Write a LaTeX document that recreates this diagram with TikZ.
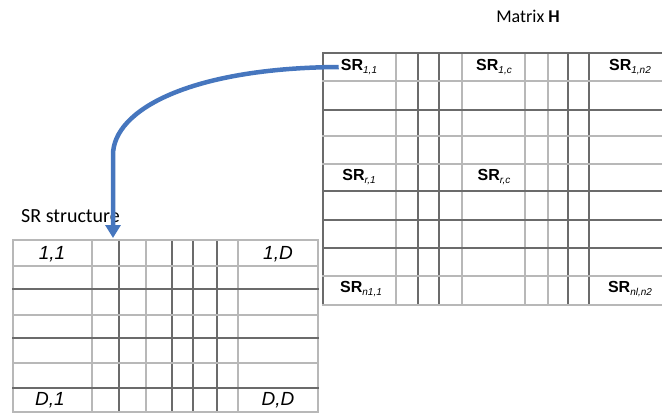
\documentclass[tikz,border=0pt]{standalone}
\usepackage{fontspec}
\setmainfont{Carlito}
\newfontfamily\arialfont{Liberation Sans}
\usetikzlibrary{arrows.meta}
\definecolor{arrowblue}{RGB}{70,118,190}
\newcommand{\srlab}[1]{{\bfseries SR}{\itshape\fontsize{10}{10}\selectfont\raisebox{-0.4ex}{#1}}}
\begin{document}
\begin{tikzpicture}[x=1pt, y=-1pt, line cap=rect,
	lightline/.style={draw=black!28, line width=1.2pt},
	darkline/.style={draw=black!58, line width=1.2pt},
	srtext/.style={font=\arialfont\fontsize{16}{16}\selectfont, inner sep=2pt},
	celltext/.style={font=\arialfont\itshape\fontsize{19}{19}\selectfont, inner sep=1pt},
	title/.style={font=\fontsize{18}{18}\selectfont, inner sep=0pt}]
	\useasboundingbox (0,0) rectangle (662,415);
	% matrix H
	\foreach \x/\s in {323/darkline, 396/lightline, 418/darkline, 439/darkline, 462/lightline, 525/lightline, 548/lightline, 568/darkline, 589/darkline}{
		\draw [\s] (\x,53)--(\x,305);
	}
	\foreach \y/\s in {53/darkline, 81/lightline, 110/darkline, 136/lightline, 164/lightline, 191/darkline, 220/darkline, 248/darkline, 276/lightline, 305/lightline}{
		\draw [\s] (323,\y)--(662,\y);
	}
	\node [title, anchor=base] (htitle) at (528,23) {Matrix {\bfseries H}};
	\node [srtext] (SR11) at (359,67) {\srlab{1,1}};
	\node [srtext] (SR1c) at (494,67) {\srlab{1,c}};
	\node [srtext] (SR1n) at (630,67) {\srlab{1,n2}};
	\node [srtext] (SRr1) at (359,177) {\srlab{r,1}};
	\node [srtext] (SRrc) at (494,177) {\srlab{r,c}};
	\node [srtext] (SRn1) at (361,289) {\srlab{n1,1}};
	\node [srtext] (SRnn) at (630,289) {\srlab{nl,n2}};
	% SR structure
	\foreach \x/\s in {13/lightline, 92/lightline, 119/darkline, 146/lightline, 172/darkline, 193/darkline, 217/darkline, 238/lightline, 318/lightline}{
		\draw [\s] (\x,240)--(\x,412);
	}
	\foreach \y/\s in {240/lightline, 266/lightline, 289/darkline, 315/lightline, 338/darkline, 363/lightline, 388/darkline, 412/lightline}{
		\draw [\s] (13,\y)--(318,\y);
	}
	\node [title, font=\fontsize{20}{20}\selectfont, anchor=base west] (stitle) at (21,222) {SR structure};
	\node [celltext] (c11) at (52,254) {1,1};
	\node [celltext] (c1D) at (278,254) {1,D};
	\node [celltext] (cD1) at (50,400) {D,1};
	\node [celltext] (cDD) at (278,400) {D,D};
	% arrow
	\coordinate (tgt) at (113,238);
	\draw [arrowblue, line width=4.5pt, line cap=butt, -{Triangle[width=15pt,length=13pt]}] (SR11.west) .. controls (190,68) and (113,110) .. (113,155) -- (tgt);
\end{tikzpicture}
\end{document}
